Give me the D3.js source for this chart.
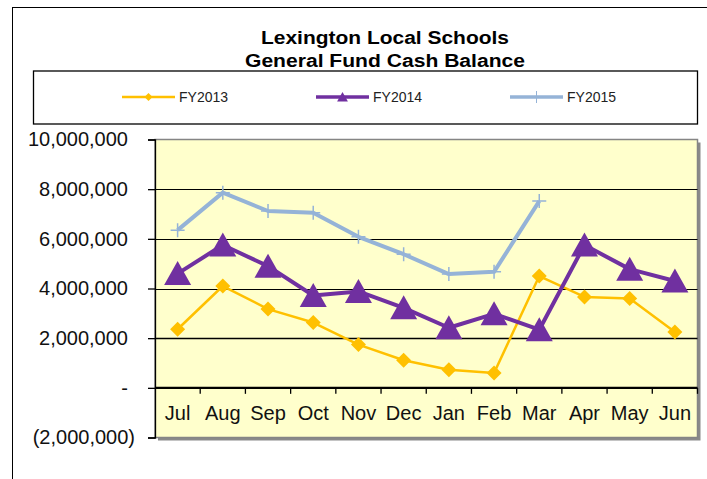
<!DOCTYPE html>
<html>
<head>
<meta charset="utf-8">
<script src="https://cdn.jsdelivr.net/npm/d3@7"></script>
<style>
  html, body { margin: 0; padding: 0; background: #fff; }
  svg { display: block; font-family: Arial, "Liberation Sans", sans-serif; }
</style>
</head>
<body>
<svg id="chart" width="707" height="479"></svg>
<script>
const titleLines = ["Lexington Local Schools", "General Fund Cash Balance"];
const months = ["Jul", "Aug", "Sep", "Oct", "Nov", "Dec", "Jan", "Feb", "Mar", "Apr", "May", "Jun"];
const fy2013 = [2360000, 4100000, 3170000, 2630000, 1740000, 1110000, 730000, 600000, 4500000, 3660000, 3600000, 2250000];
const fy2014 = [4600000, 5750000, 4900000, 3720000, 3880000, 3220000, 2420000, 2980000, 2340000, 5750000, 4780000, 4300000];
const fy2015 = [6350000, 7860000, 7120000, 7050000, 6080000, 5380000, 4580000, 4670000, 7520000];
const yTicks = [-2000000, 0, 2000000, 4000000, 6000000, 8000000, 10000000];
const seriesNames = ["FY2013", "FY2014", "FY2015"];

const colors = { FY2013: "#FFC000", FY2014: "#7030A0", FY2015: "#95B3D7" };
const series = [
  { name: "FY2013", values: fy2013, width: 2.5, marker: "diamond" },
  { name: "FY2014", values: fy2014, width: 4, marker: "triangle" },
  { name: "FY2015", values: fy2015, width: 4, marker: "plus" }
];

const svg = d3.select("#chart");
const plot = { left: 155, right: 697.5, top: 139.5, bottom: 437.5 };

// Outer frame (extends beyond right/bottom edges)
svg.append("rect").attr("x", 12.5).attr("y", 7.5).attr("width", 760).attr("height", 520)
  .attr("fill", "#fff").attr("stroke", "#000").attr("stroke-width", 1);

// Title
titleLines.forEach((t, i) => {
  svg.append("text").attr("x", 385).attr("y", 44 + i * 23)
    .attr("text-anchor", "middle").attr("font-weight", "bold").attr("font-size", 18)
    .attr("textLength", i === 0 ? 248 : 280).attr("lengthAdjust", "spacingAndGlyphs")
    .attr("fill", "#000").text(t);
});

// Legend box
svg.append("rect").attr("x", 33.5).attr("y", 71).attr("width", 664).attr("height", 53)
  .attr("fill", "#fff").attr("stroke", "#000").attr("stroke-width", 1.3);

function markerPath(type, s) {
  if (type === "diamond") return `M0,${-s}L${s},0L0,${s}L${-s},0Z`;
  if (type === "triangle") return `M0,${-s}L${s * 1.08},${s * 0.92}L${-s * 1.08},${s * 0.92}Z`;
  return `M${-s},0H${s}M0,${-s}V${s}`;
}

const legendX = [122, 316, 510];
series.forEach((s, i) => {
  const g = svg.append("g").attr("transform", `translate(${legendX[i]},97)`);
  g.append("line").attr("x1", 0).attr("x2", 53).attr("y1", 0).attr("y2", 0)
    .attr("stroke", colors[s.name]).attr("stroke-width", s.width === 4 ? 3.5 : 2.5);
  const m = g.append("path").attr("transform", "translate(26.5,0)")
    .attr("d", markerPath(s.marker, s.marker === "triangle" ? 5 : (s.marker === "plus" ? 6 : 4)));
  if (s.marker === "plus") m.attr("fill", "none").attr("stroke", colors[s.name]).attr("stroke-width", 1);
  else m.attr("fill", colors[s.name]);
  g.append("text").attr("x", 57).attr("y", 5).attr("font-size", 14).attr("fill", "#222").text(seriesNames[i]);
});

// Scales
const x = d3.scaleBand().domain(months).range([plot.left, plot.right]).padding(0);
const y = d3.scaleLinear().domain([-2000000, 10000000]).range([plot.bottom, plot.top]);
const cx = d => x(d) + x.bandwidth() / 2;

// Plot background with shadow
svg.append("rect").attr("x", plot.left + 3).attr("y", plot.top + 3)
  .attr("width", plot.right - plot.left).attr("height", plot.bottom - plot.top).attr("fill", "#8a8a8a");
svg.append("rect").attr("x", plot.left).attr("y", plot.top)
  .attr("width", plot.right - plot.left).attr("height", plot.bottom - plot.top)
  .attr("fill", "#FFFFCC").attr("stroke", "#858585").attr("stroke-width", 1.5);

// Gridlines
svg.append("g").selectAll("line").data(yTicks.filter(v => v > 0 && v < 10000000)).join("line")
  .attr("x1", plot.left).attr("x2", plot.right)
  .attr("y1", d => Math.round(y(d)) + 0.5).attr("y2", d => Math.round(y(d)) + 0.5)
  .attr("stroke", "#000").attr("stroke-width", d => d === 2000000 ? 1.6 : 1);

// Y axis
const fmt = d3.format(",");
const yAxis = d3.axisLeft(y).tickValues(yTicks).tickSize(7).tickPadding(20)
  .tickFormat(d => d === 0 ? "-" : (d < 0 ? `(${fmt(-d)})` : fmt(d)));
const yg = svg.append("g").attr("transform", `translate(${plot.left},0)`).call(yAxis);
yg.select(".domain").attr("stroke", "#000").attr("stroke-width", 1.3);
yg.selectAll(".tick line").attr("stroke", "#000").attr("stroke-width", 1.3);
yg.selectAll(".tick text").attr("font-size", 20).attr("fill", "#111")
  .attr("font-family", "Arial, 'Liberation Sans', sans-serif")
  .attr("dx", d => d < 0 ? 7 : 0);

// X axis at zero
const xg = svg.append("g").attr("transform", `translate(0,${y(0)})`);
xg.append("line").attr("x1", plot.left).attr("x2", plot.right).attr("y1", 0).attr("y2", 0)
  .attr("stroke", "#000").attr("stroke-width", 2.2);
xg.selectAll("line.tk").data(months).join("line").attr("class", "tk")
  .attr("x1", d => x(d) + x.bandwidth()).attr("x2", d => x(d) + x.bandwidth())
  .attr("y1", 0).attr("y2", 6).attr("stroke", "#000").attr("stroke-width", 1.3);
xg.selectAll("text").data(months).join("text")
  .attr("x", d => cx(d)).attr("y", 32).attr("text-anchor", "middle")
  .attr("font-size", 20).attr("fill", "#111").text(d => d);

// Series
const line = d3.line().x((d, i) => cx(months[i])).y(d => y(d));
series.forEach(s => {
  svg.append("path").datum(s.values).attr("d", line).attr("fill", "none")
    .attr("stroke", colors[s.name]).attr("stroke-width", s.width).attr("stroke-linejoin", "round");
});
series.forEach(s => {
  const size = s.marker === "triangle" ? 12.5 : (s.marker === "diamond" ? 7.5 : 7);
  const mk = svg.append("g").selectAll("path").data(s.values).join("path")
    .attr("transform", (d, i) => `translate(${cx(months[i])},${y(d)})`)
    .attr("d", markerPath(s.marker, size));
  if (s.marker === "plus") mk.attr("fill", "none").attr("stroke", colors[s.name]).attr("stroke-width", 1.5);
  else mk.attr("fill", colors[s.name]);
});
</script>
</body>
</html>
